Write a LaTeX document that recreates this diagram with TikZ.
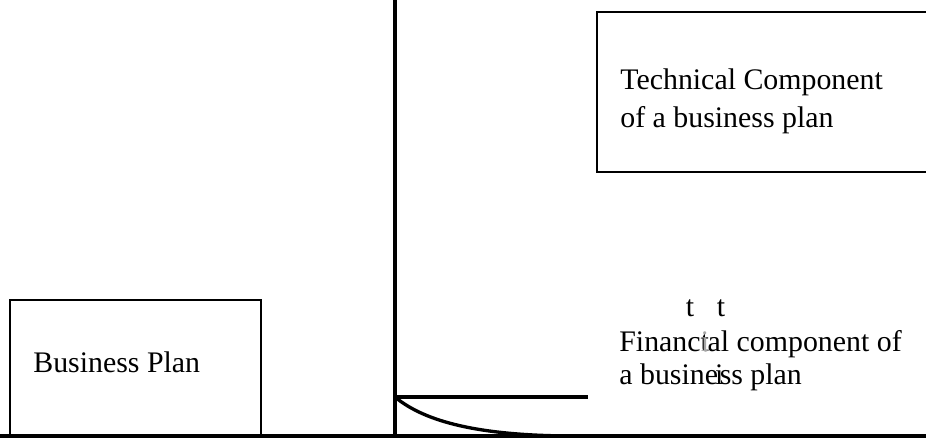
\documentclass[tikz,border=0pt]{standalone}
\usepackage{fontspec}
\setmainfont{Liberation Serif}
\usetikzlibrary{positioning}

\begin{document}
\begin{tikzpicture}[x=0.02cm,y=-0.02cm,
  font=\fontsize{17}{20}\selectfont,
  label/.style={anchor=base west,inner sep=0pt},
  stray/.style={anchor=base,inner sep=0pt}]
  \useasboundingbox (0,0) rectangle (926,438);
  % axes and joints
  \coordinate (top)   at (395,0);
  \coordinate (foot)  at (395,436);
  \coordinate (left)  at (0,436);
  \coordinate (right) at (926,436);
  \coordinate (knee)  at (395,397);
  \coordinate (arm)   at (588,397);
  \coordinate (tail)  at (575,436);

  \draw[line width=2.1pt] (left) -- (right);
  \draw[line width=2.1pt] (top) -- (foot);
  \draw[line width=2.1pt] (knee) -- (arm);
  \draw[line width=1.9pt] (knee) .. controls (425,422) and (480,436) .. (tail);

  % Business plan box
  \draw[line width=1.2pt] (10,436) -- (10,300) -- (261,300) -- (261,436);
  \node[label] (bp) at (33,373) {Business Plan};

  % technical box (open on the right)
  \draw[line width=1.4pt] (926,12) -- (597,12) -- (597,172) -- (926,172);
  \node[label] (tech1) at (620,90) {Technical Component};
  \node[label] (tech2) at (620,128) {of a business plan};

  % financial text, with the stray glyphs
  \node[label] (fin1) at (619,352)
    {Financt\kern-0.27em{\color{black!35}i}\kern-0.05em al component of};
  \node[label] (fin2) at (619,385) {a busine\kern-0.1em i\kern-0.12em ss plan};
  \node[stray] (t1) at (690,317) {t};
  \node[stray] (t2) at (721,317) {t};
\end{tikzpicture}
\end{document}
